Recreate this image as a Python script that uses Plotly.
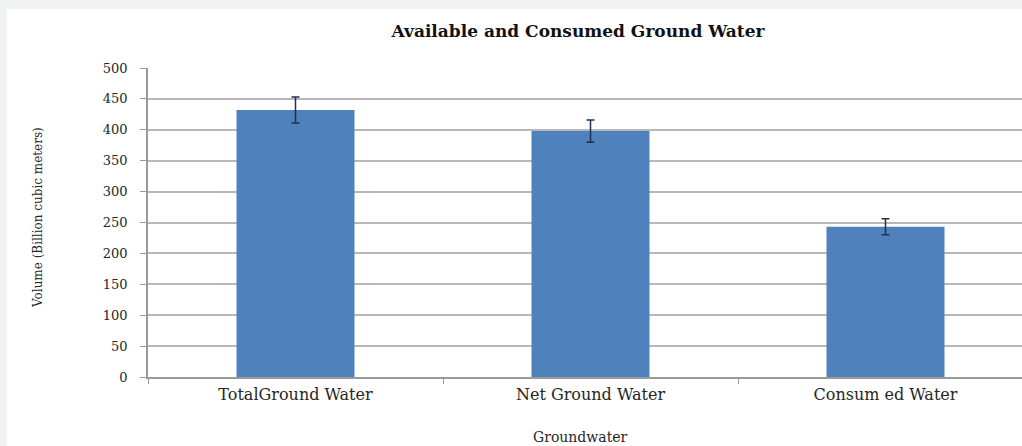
import plotly.graph_objects as go

# Values
categories = ["TotalGround Water", "Net Ground Water", "Consum ed Water"]
volumes = [432, 398, 243]
errors = [21, 18, 13]
y_ticks = list(range(0, 501, 50))

W, H = 1022, 446
L, R, T, B = 148, 0, 68, 69
plot_w = W - L - R
plot_h = H - T - B

serif = "DejaVu Serif, Liberation Serif, serif"
grid_col = "#b8b8b8"
text_col = "#262626"

fig = go.Figure()
fig.add_trace(go.Bar(
    x=categories,
    y=volumes,
    marker=dict(color="#4f81bd", line=dict(width=0)),
    error_y=dict(type="data", array=errors, visible=True,
                 color="#1f3050", thickness=1.5, width=4),
    width=0.4,
))

# gray frame strips around the white chart panel (left and top)
frame = "#f1f2f4"
fig.add_shape(type="rect", xref="paper", yref="paper",
              x0=-L / plot_w - 0.01, x1=(7 - L) / plot_w,
              y0=-B / plot_h - 0.01, y1=(H - T) / plot_h + 0.01,
              fillcolor=frame, line=dict(width=0), layer="below")
fig.add_shape(type="rect", xref="paper", yref="paper",
              x0=-L / plot_w - 0.01, x1=1.01,
              y0=(H - T - 10) / plot_h, y1=(H - T) / plot_h + 0.01,
              fillcolor=frame, line=dict(width=0), layer="below")

fig.update_layout(
    width=W, height=H,
    margin=dict(l=L, r=R, t=T, b=B),
    paper_bgcolor="white",
    plot_bgcolor="white",
    showlegend=False,
    font=dict(family=serif, size=12, color=text_col),
    title=dict(text="<b>Available and Consumed Ground Water</b>",
               font=dict(family=serif, size=17, color="#111111"),
               x=(578 - L) / plot_w, xref="paper", xanchor="center",
               y=1 - 31 / H, yref="container", yanchor="middle"),
    xaxis=dict(
        range=[-0.5, -0.5 + plot_w / 295],
        showline=True, linecolor="#9a9a9a", linewidth=1.5,
        ticks="outside", ticklen=5, tickcolor="#9a9a9a",
        tickson="boundaries", showgrid=False,
        ticklabelstandoff=2,
        tickfont=dict(family=serif, size=16, color=text_col),
    ),
    yaxis=dict(
        range=[0, 500], tickvals=y_ticks,
        showline=True, linecolor="#9a9a9a", linewidth=1.5,
        ticks="outside", ticklen=6, tickcolor="#9a9a9a",
        ticklabelstandoff=10,
        showgrid=True, gridcolor=grid_col, gridwidth=1.5,
        zeroline=False,
        tickfont=dict(family=serif, size=13, color=text_col),
    ),
    annotations=[
        dict(text="Volume (Billion cubic meters)", textangle=-90,
             xref="paper", yref="paper",
             x=(38 - L) / plot_w, y=(H - B - 217) / plot_h,
             xanchor="center", yanchor="middle",
             showarrow=False, font=dict(family=serif, size=12, color=text_col)),
        dict(text="Groundwater",
             xref="paper", yref="paper",
             x=(580 - L) / plot_w, y=-(437 - (H - B)) / plot_h,
             xanchor="center", yanchor="middle",
             showarrow=False, font=dict(family=serif, size=14, color=text_col)),
    ],
)

fig.write_html(
    "out.html",
    config={"displayModeBar": False},
    post_script="document.body.style.margin='0';document.body.style.overflow='hidden';",
)
